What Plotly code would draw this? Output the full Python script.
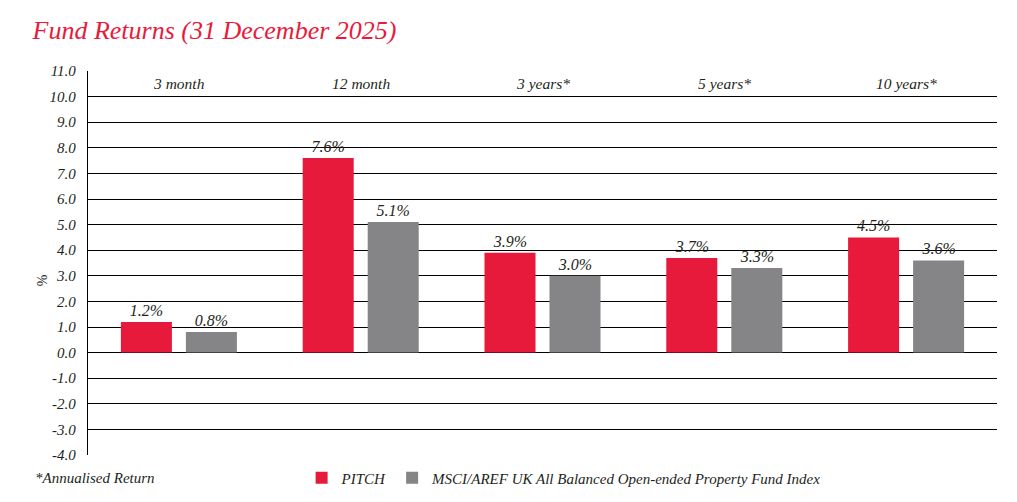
import plotly.graph_objects as go

categories = ["3 month", "12 month", "3 years*", "5 years*", "10 years*"]
pitch = [1.2, 7.6, 3.9, 3.7, 4.5]
msci = [0.8, 5.1, 3.0, 3.3, 3.6]
series_names = ["PITCH", "MSCI/AREF UK All Balanced Open-ended Property Fund Index"]
y_ticks = [v for v in range(-4, 12)]

RED = "#E81A3B"
GREY = "#858587"
FONT = "Liberation Serif"
TXT = "#231F20"

fig = go.Figure()
for name, vals, col in [(series_names[0], pitch, RED), (series_names[1], msci, GREY)]:
    fig.add_trace(go.Bar(
        x=categories, y=vals, name=name, marker=dict(color=col, line=dict(width=0)),
        text=[f"{v:.1f}%" for v in vals], textposition="outside",
        textfont=dict(family=FONT, size=16, color=TXT, style="italic"),
        cliponaxis=False,
    ))

for c in categories:
    fig.add_annotation(x=c, y=10.5, xref="x", yref="y", text=c, showarrow=False,
                       font=dict(family=FONT, size=15.5, color=TXT, style="italic"))

fig.add_annotation(x=(33 - 88) / 909, y=-(478 - 455) / 384, xref="paper", yref="paper",
                   text="*Annualised Return", xanchor="left", yanchor="middle", showarrow=False,
                   font=dict(family=FONT, size=15, color=TXT, style="italic"))

fig.update_layout(
    width=1017, height=502,
    margin=dict(l=88, r=20, t=71, b=47, autoexpand=False),
    paper_bgcolor="white", plot_bgcolor="white",
    barmode="group", bargap=0.285, bargroupgap=0.215,
    title=dict(text="Fund Returns (31 December 2025)", x=0.032, xanchor="left", y=0.94, yanchor="middle",
               font=dict(family=FONT, size=26, color=RED, style="italic")),
    showlegend=True,
    legend=dict(orientation="h", x=0.235, xanchor="left", yref="container", y=0.048, yanchor="middle",
                font=dict(family=FONT, size=15, color=TXT, style="italic"),
                itemwidth=30, traceorder="normal", bgcolor="rgba(0,0,0,0)"),
    font=dict(family=FONT, color=TXT),
)
fig.update_xaxes(showticklabels=False, showgrid=False, zeroline=False, showline=False)
fig.update_yaxes(range=[-4, 11], tickvals=y_ticks, ticktext=[f"{v:.1f}" for v in y_ticks],
                 showgrid=True, gridcolor="black", gridwidth=1.3, zeroline=False,
                 showline=True, linecolor="black", linewidth=1.3,
                 tickfont=dict(family=FONT, size=15, color=TXT, style="italic"),
                 ticks="", ticklabelstandoff=8,
                 title=dict(text="%", standoff=2, font=dict(family=FONT, size=14, color=TXT)))
fig.add_annotation(x=-0.053, y=0.456, xref="paper", yref="paper", text="", showarrow=False)
fig.layout.yaxis.title.text = None
fig.add_annotation(x=40, y=280, xref="paper", yref="paper", text="%", textangle=-90, showarrow=False,
                   font=dict(family=FONT, size=14, color=TXT))
fig.layout.annotations[-1].x = (40 - 88) / 909 - 0.008
fig.layout.annotations[-1].y = (455 - 280) / 384
fig.write_html("out.html")
